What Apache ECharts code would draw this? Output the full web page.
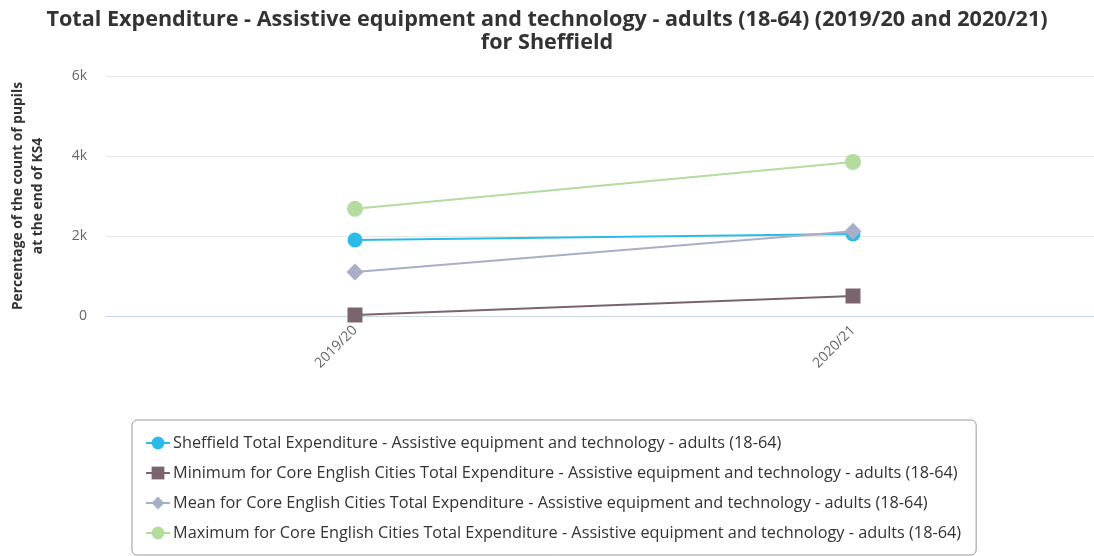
<!DOCTYPE html>
<html><head><meta charset="utf-8">
<script src="https://cdn.jsdelivr.net/npm/echarts@6/dist/echarts.min.js"></script>
<style>html,body{margin:0;padding:0;background:#fff}#c{width:1094px;height:556px}</style>
</head><body><div id="c"></div>
<script>
const categories = ['2019/20', '2020/21'];
const sheffield = [1900, 2050];
const minimum = [25, 500];
const mean = [1100, 2120];
const maximum = [2680, 3850];
const yTicks = [0, 2000, 4000, 6000];
const names = [
  'Sheffield Total Expenditure - Assistive equipment and technology - adults (18-64)',
  'Minimum for Core English Cities Total Expenditure - Assistive equipment and technology - adults (18-64)',
  'Mean for Core English Cities Total Expenditure - Assistive equipment and technology - adults (18-64)',
  'Maximum for Core English Cities Total Expenditure - Assistive equipment and technology - adults (18-64)'
];
const font = '"Open Sans", "Noto Sans", sans-serif';
const chart = echarts.init(document.getElementById('c'));
function s(name, data, color, symbol, size) {
  return {name, type:'line', data, symbol, symbolSize:size,
    itemStyle:{color}, lineStyle:{color, width:2}, emphasis:{disabled:true}};
}
chart.setOption({
  animation:false,
  textStyle:{fontFamily:font},
  title:{text:'Total Expenditure - Assistive equipment and technology - adults (18-64) (2019/20 and 2020/21)\nfor Sheffield',
    left:'center', top:3, textStyle:{fontFamily:font, fontSize:21.6, fontWeight:'bold', color:'#333', lineHeight:23}},
  grid:{left:106, width:996, top:76, height:240, outerBoundsMode:'none', containLabel:false},
  legend:{orient:'vertical', left:132, top:420, padding:[15,15,14,13],
    itemGap:14, itemWidth:24, itemHeight:16, borderColor:'#999', borderWidth:1, borderRadius:5,
    textStyle:{fontFamily:font, fontSize:16.3, color:'#333', padding:[0,0,0,-2]}, data:names},
  xAxis:{type:'category', data:categories, boundaryGap:true,
    axisLine:{lineStyle:{color:'#ccd6eb'}}, axisTick:{show:false},
    axisLabel:{rotate:45, color:'#666', fontSize:14, fontFamily:font, margin:12}},
  yAxis:{type:'value', min:0, max:6000, interval:2000,
    name:'Percentage of the count of pupils\nat the end of KS4', nameLocation:'middle', nameGap:58,
    nameTextStyle:{fontFamily:font, fontSize:13.8, fontWeight:'bold', color:'#333', lineHeight:20},
    axisLine:{show:false}, axisTick:{show:false},
    splitLine:{lineStyle:{color:'#e6e6e6'}},
    axisLabel:{color:'#666', fontSize:14, fontFamily:font, margin:19,
      formatter:v => yTicks.includes(v) ? (v===0?'0':(v/1000)+'k') : ''}},
  series:[
    s(names[0], sheffield, '#2bbbe8', 'circle', 15),
    s(names[1], minimum, '#7a656f', 'rect', 15),
    s(names[2], mean, '#a9afc7', 'diamond', 17),
    s(names[3], maximum, '#b4dc9e', 'circle', 16)
  ]
});
</script></body></html>
